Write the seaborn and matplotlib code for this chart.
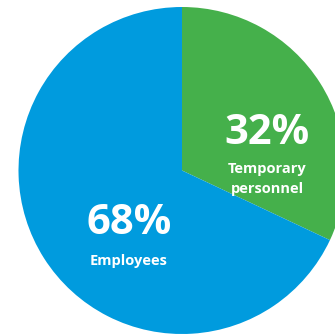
import matplotlib
matplotlib.use("Agg")
import matplotlib.pyplot as plt
import seaborn as sns

# Workforce split
categories = ["Temporary\npersonnel", "Employees"]
shares = [32, 68]
colors = ["#45B04B", "#009BDE"]

sns.set_theme(style="white")
plt.rcParams["font.family"] = ["Open Sans", "DejaVu Sans"]

fig = plt.figure(figsize=(3.35, 3.36), dpi=100)
ax = fig.add_axes([0, 0, 1, 1])

ax.pie(shares, colors=colors, startangle=90, counterclock=False,
       center=(182, 165.5), radius=163.5,
       wedgeprops=dict(linewidth=0), frame=True)
ax.set_xlim(0, 335)
ax.set_ylim(0, 336)
ax.set_aspect("equal")
ax.axis("off")

# (x, value-label y, category-label y) in pixel-sized data units
label_pos = [(267, 203, 157), (129, 112, 75)]
for cat, val, (x, yv, yl) in zip(categories, shares, label_pos):
    ax.text(x, yv, f"{val}%", ha="center", va="center", color="white",
            fontsize=30, fontweight="bold")
    ax.text(x, yl, cat, ha="center", va="center",
            color="white", fontsize=10.5, fontweight="bold",
            linespacing=1.55)

fig.savefig("out.png", dpi=100)
